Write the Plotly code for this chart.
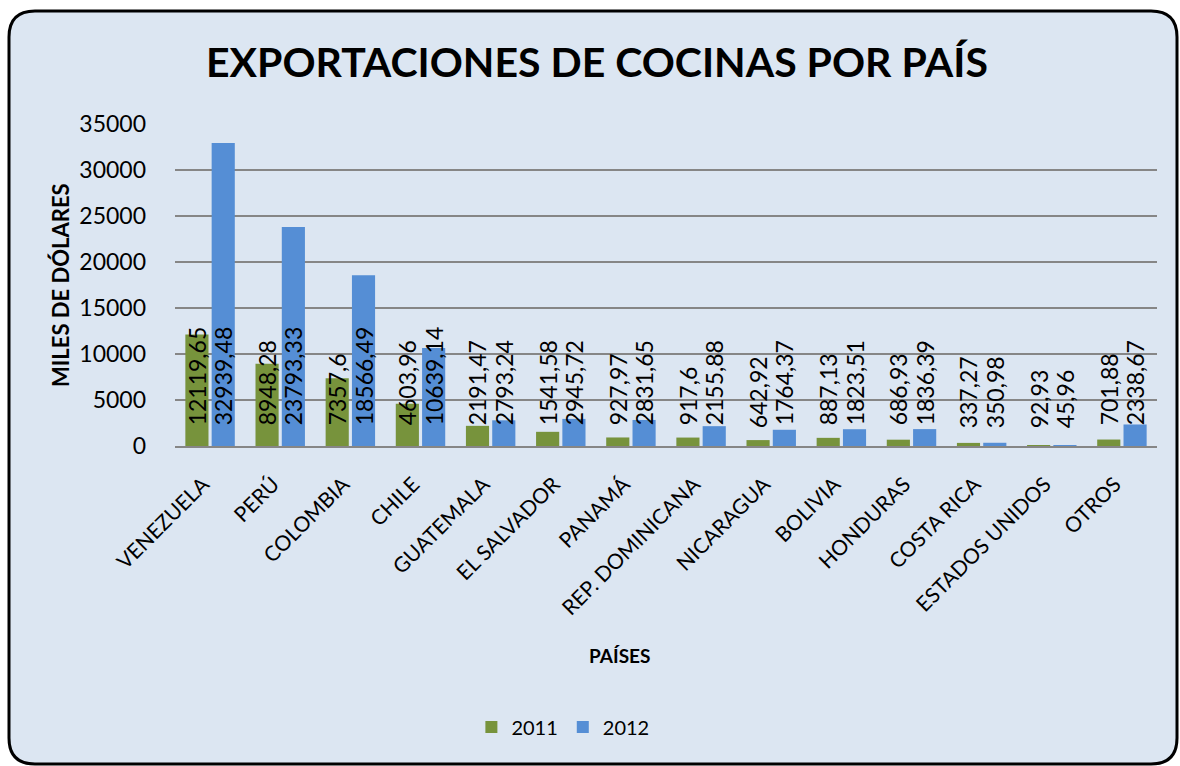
import plotly.graph_objects as go

paises = ["VENEZUELA", "PERÚ", "COLOMBIA", "CHILE", "GUATEMALA", "EL SALVADOR", "PANAMÁ",
          "REP. DOMINICANA", "NICARAGUA", "BOLIVIA", "HONDURAS", "COSTA RICA",
          "ESTADOS UNIDOS", "OTROS"]
v2011 = [12119.65, 8948.28, 7357.6, 4603.96, 2191.47, 1541.58, 927.97, 917.6, 642.92,
         887.13, 686.93, 337.27, 92.93, 701.88]
v2012 = [32939.48, 23793.33, 18566.49, 10639.14, 2793.24, 2945.72, 2831.65, 2155.88,
         1764.37, 1823.51, 1836.39, 350.98, 45.96, 2338.67]
y_ticks = [0, 5000, 10000, 15000, 20000, 25000, 30000, 35000]
y_ticktext = ["0", "5000", "10000", "15000", "20000", "25000", "30000", "35000"]

def fmt(v):
    s = ("%.2f" % v).rstrip("0").rstrip(".")
    return "\u00a0\u00a0\u00a0" + s.replace(".", ",")

FONT = "Lato"
W, H = 1180, 766
L, R, T, B = 175, 23, 124, 320
pw, ph = W - L - R, H - T - B

fig = go.Figure()
for name, vals, col in [("2011", v2011, "#77933C"), ("2012", v2012, "#558ED5")]:
    fig.add_trace(go.Bar(
        x=paises, y=vals, name=name, marker=dict(color=col, line=dict(width=0)),
        text=[fmt(v) for v in vals], textposition="inside", insidetextanchor="start",
        textangle=-90, constraintext="none",
        insidetextfont=dict(family=FONT, size=23, color="black"),
    ))

def px(x):
    return (x - L) / pw

def py(y):
    return (H - B - y) / ph

lx, rx_, ty, by = px(9), px(1177), py(11), py(764)
rx = 26 / pw
ry = 26 / ph
path = (f"M {lx+rx},{ty} L {rx_-rx},{ty} Q {rx_},{ty} {rx_},{ty-ry} "
        f"L {rx_},{by+ry} Q {rx_},{by} {rx_-rx},{by} "
        f"L {lx+rx},{by} Q {lx},{by} {lx},{by+ry} "
        f"L {lx},{ty-ry} Q {lx},{ty} {lx+rx},{ty} Z")

fig.update_layout(
    width=W, height=H,
    margin=dict(l=L, r=R, t=T, b=B),
    paper_bgcolor="white", plot_bgcolor="rgba(0,0,0,0)",
    barmode="group", bargap=0.25, bargroupgap=0.12,
    uniformtext=dict(minsize=23, mode="show"),
    font=dict(family=FONT, color="black"),
    showlegend=True,
    legend=dict(orientation="h", x=0.395, y=py(727), xanchor="center", yanchor="middle",
                font=dict(family=FONT, size=20), bgcolor="rgba(0,0,0,0)",
                itemwidth=30, traceorder="normal"),
    shapes=[dict(type="path", path=path, xref="paper", yref="paper", layer="below",
                 fillcolor="#DCE6F2", line=dict(color="black", width=3))],
    annotations=[
        dict(text="<b>EXPORTACIONES DE COCINAS POR PAÍS</b>", xref="paper", yref="paper",
             x=px(597), y=py(62), xanchor="center", yanchor="middle", showarrow=False,
             font=dict(family=FONT, size=41)),
        dict(text="<b>MILES DE DÓLARES</b>", xref="paper", yref="paper", textangle=-90,
             x=px(60), y=py(285), xanchor="center", yanchor="middle", showarrow=False,
             font=dict(family=FONT, size=22)),
        dict(text="<b>PAÍSES</b>", xref="paper", yref="paper",
             x=px(619), y=py(655), xanchor="center", yanchor="middle", showarrow=False,
             font=dict(family=FONT, size=19)),
    ],
)
fig.update_xaxes(tickangle=-45, tickfont=dict(family=FONT, size=21), showgrid=False,
                 showline=True, linecolor="#868686", linewidth=1.5, ticks="",
                 ticklabelstandoff=16, ticklabelshift=-7)
fig.update_yaxes(range=[0, 35000], tickvals=y_ticks, ticktext=y_ticktext,
                 tickfont=dict(family=FONT, size=23),
                 showgrid=True, gridcolor="#868686", gridwidth=1.5, zeroline=False,
                 showline=False, ticks="", ticklabelstandoff=28)

fig.write_html("out.html", config={"displayModeBar": False},
               post_script="document.body.style.margin='0';")
